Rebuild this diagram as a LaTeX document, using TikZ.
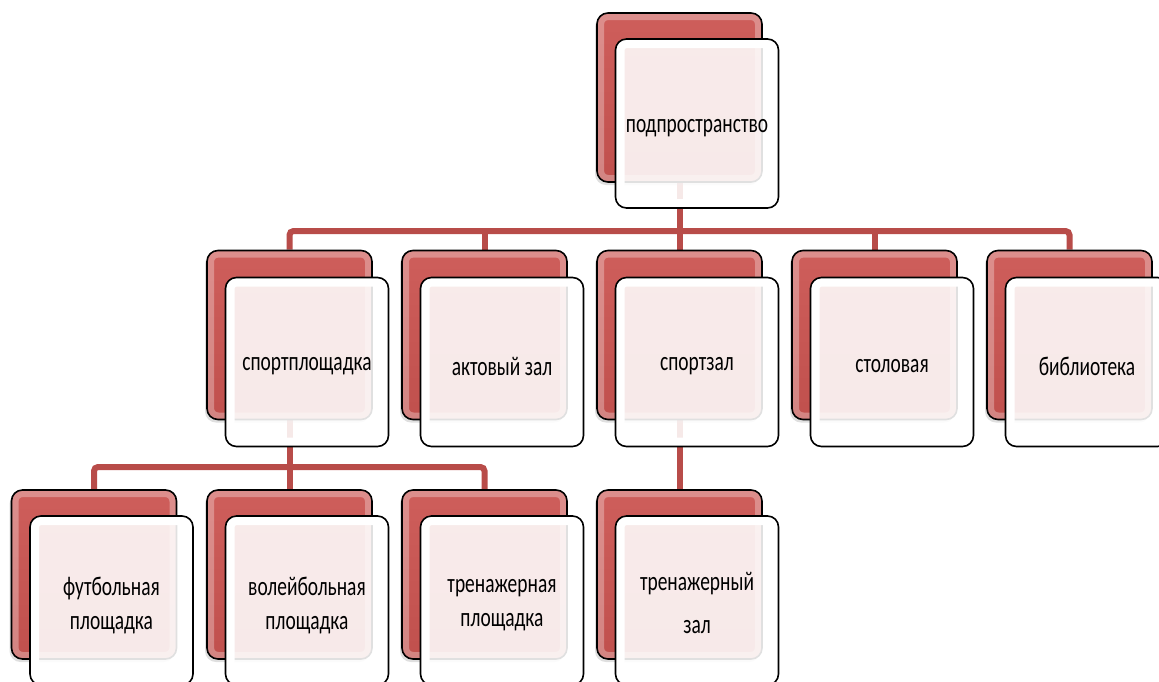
\documentclass[tikz,border=0pt]{standalone}
\usepackage{fontspec}
\setmainfont{Carlito}[FakeStretch=0.72]
\usetikzlibrary{shadows}
\definecolor{redtop}{RGB}{206,94,91}
\definecolor{redbot}{RGB}{192,80,77}
\definecolor{linkred}{RGB}{184,76,73}
\pgfdeclarelayer{bg}
\pgfdeclarelayer{conn}
\pgfsetlayers{bg,conn,main}
\begin{document}
\begin{tikzpicture}[x=1pt,y=-1pt,
  backbox/.style={draw=black, line width=1.6pt, rounded corners=11pt,
    minimum width=165pt, minimum height=169pt, inner sep=0pt,
    top color=redtop, bottom color=redbot,
    path picture={\draw[white, opacity=0.3, line width=14pt, rounded corners=11pt]
      (path picture bounding box.south west) rectangle (path picture bounding box.north east);},
    drop shadow={shadow xshift=-2pt, shadow yshift=-3pt, opacity=0.25}},
  frontbox/.style={draw=black, line width=1.6pt, rounded corners=11pt,
    minimum width=163pt, minimum height=169pt, inner sep=0pt,
    fill=white, fill opacity=0.88, draw opacity=1,
    path picture={\draw[white, line width=18pt, rounded corners=11pt]
      (path picture bounding box.south west) rectangle (path picture bounding box.north east);}},
  lbl/.style={font=\fontsize{27}{34}\selectfont, align=center, text=black, inner sep=0pt},
  link/.style={draw=linkred, line width=6pt, rounded corners=4pt}]
\useasboundingbox (0,0) rectangle (1159,681);
\begin{pgfonlayer}{bg}
\fill[white] (0,0) rectangle (1159,681);
\end{pgfonlayer}

% top
\node[backbox] (topb) at (679.5,97.5) {};
\node[frontbox] (topf) at (697,123.5) {};

% row 2
\node[backbox] (b1) at (289.5,335) {};
\node[backbox] (b2) at (484.5,335) {};
\node[backbox] (b3) at (679.5,335) {};
\node[backbox] (b4) at (874.5,335) {};
\node[backbox] (b5) at (1069.5,335) {};
\node[frontbox] (f1) at (307,362) {};
\node[frontbox] (f2) at (502,362) {};
\node[frontbox] (f3) at (697,362) {};
\node[frontbox] (f4) at (892,362) {};
\node[frontbox] (f5) at (1087,362) {};

% row 3
\node[backbox] (c1) at (94,574.5) {};
\node[backbox] (c2) at (289.5,574.5) {};
\node[backbox] (c3) at (484.5,574.5) {};
\node[backbox] (c4) at (679.5,574.5) {};
\node[frontbox] (g1) at (111.5,600.5) {};
\node[frontbox] (g2) at (307,600.5) {};
\node[frontbox] (g3) at (502,600.5) {};
\node[frontbox] (g4) at (697,600.5) {};

% labels
\node[lbl] (ttop) at ([yshift=-5pt]topf.center) {подпространство};
\node[lbl] (t1) at ([yshift=-4pt]f1.center) {спортплощадка};
\node[lbl] (t2) at ([yshift=-4pt]f2.center) {актовый зал};
\node[lbl] (t3) at ([yshift=-4pt]f3.center) {спортзал};
\node[lbl] (t4) at ([yshift=-4pt]f4.center) {столовая};
\node[lbl] (t5) at ([yshift=-4pt]f5.center) {библиотека};
\node[lbl] (u1) at ([yshift=-5pt]g1.center) {футбольная\\площадка};
\node[lbl] (u2) at ([yshift=-5pt]g2.center) {волейбольная\\площадка};
\node[lbl] (u3) at ([yshift=-5pt]g3.center) {тренажерная\\площадка};
\node[lbl] (u4) at ([yshift=-2pt]g4.center) {тренажерный\\[9pt]зал};

% connectors, behind the boxes
\coordinate (bus1) at (679.5,231);
\coordinate (bus2) at (289.5,467);
\begin{pgfonlayer}{conn}
\draw[link] (topb.south) -- (bus1);
\draw[link] (b1.north) -- (b1.north |- bus1) -- (b5.north |- bus1) -- (b5.north);
\draw[link] (b2.north) -- (b2.north |- bus1);
\draw[link] (b3.north) -- (b3.north |- bus1);
\draw[link] (b4.north) -- (b4.north |- bus1);
\draw[link] (b1.south) -- (bus2);
\draw[link] (c1.north) -- (c1.north |- bus2) -- (c3.north |- bus2) -- (c3.north);
\draw[link] (c2.north) -- (c2.north |- bus2);
\draw[link] (b3.south) -- (c4.north);
\end{pgfonlayer}
\end{tikzpicture}
\end{document}
